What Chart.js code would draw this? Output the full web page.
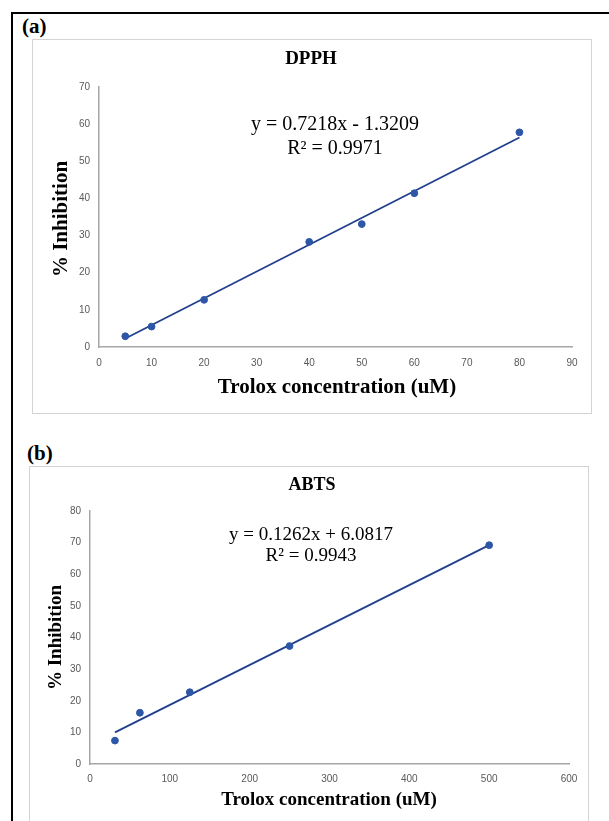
<!DOCTYPE html>
<html>
<head>
<meta charset="utf-8">
<script src="https://cdn.jsdelivr.net/npm/chart.js@4/dist/chart.umd.min.js"></script>
<style>
    body { margin: 0; background: #fff; width: 609px; height: 821px; overflow: hidden; position: relative; }
    #frame { position: absolute; left: 11px; top: 12px; width: 620px; height: 830px; border-left: 2px solid #000; border-top: 2px solid #000; }
    .panel-label { position: absolute; font-family: "Liberation Serif", serif; font-weight: bold; font-size: 21px; color: #000; }
    .box { position: absolute; box-sizing: border-box; border: 1px solid #d4d4d4; background: #fff; }
    .box canvas { display: block; }
</style>
</head>
<body>
<div id="frame"></div>

<div class="panel-label" style="left:22px; top:14px;">(a)</div>
<div class="box" style="left:32px; top:39px; width:560px; height:375px;">
    <canvas id="dpphChart" width="558" height="373"></canvas>
</div>

<div class="panel-label" style="left:27px; top:441px;">(b)</div>
<div class="box" style="left:29px; top:466px; width:560px; height:370px;">
    <canvas id="abtsChart" width="558" height="354"></canvas>
</div>

<script>
// DPPH data
const dpphConc = [5, 10, 20, 40, 50, 60, 80];
const dpphInhibition = [2.9, 5.5, 12.7, 28.3, 33.1, 41.4, 57.8];
const dpphTrendX = [5, 80];
const dpphTrendY = [2.3, 56.4];
const dpphXTicks = [0, 10, 20, 30, 40, 50, 60, 70, 80, 90];
const dpphYTicks = [0, 10, 20, 30, 40, 50, 60, 70];

// ABTS data
const abtsConc = [31.25, 62.5, 125, 250, 500];
const abtsInhibition = [7.4, 16.2, 22.7, 37.3, 69.2];
const abtsTrendX = [31.25, 500];
const abtsTrendY = [10.0, 69.2];
const abtsXTicks = [0, 100, 200, 300, 400, 500, 600];
const abtsYTicks = [0, 10, 20, 30, 40, 50, 60, 70, 80];

const pointColor = '#2d56a6';
const lineColor = '#213f8c';
const axisColor = '#a6a6a6';
const tickColor = '#595959';
const serif = '"Liberation Serif", "Times New Roman", serif';

// draws title, equation and axis titles on the canvas
const textPlugin = {
    id: 'panelText',
    afterDraw(chart, args, opts) {
        const ctx = chart.ctx;
        const area = chart.chartArea;
        ctx.save();
        ctx.fillStyle = '#000';
        ctx.textAlign = 'center';
        ctx.textBaseline = 'middle';

        ctx.font = 'bold ' + opts.titleSize + 'px ' + serif;
        ctx.fillText(opts.title, area.left + opts.titleDx, opts.titleY);

        ctx.font = opts.eqSize + 'px ' + serif;
        opts.equation.forEach((line, i) => {
            ctx.fillText(line, area.left + opts.eqDx, area.top + opts.eqDy + i * opts.eqGap);
        });

        ctx.font = 'bold ' + opts.axisSize + 'px ' + serif;
        ctx.fillText(opts.xTitle, area.left + opts.xTitleDx, area.bottom + opts.xTitleDy);

        ctx.translate(opts.yTitleX, (area.top + area.bottom) / 2 + opts.yTitleDy);
        ctx.rotate(-Math.PI / 2);
        ctx.fillText(opts.yTitle, 0, 0);
        ctx.restore();
    }
};

function buildChart(canvasId, xs, ys, trendX, trendY, xTicks, yTicks, layout, text) {
    const ctx = document.getElementById(canvasId).getContext('2d');
    return new Chart(ctx, {
        type: 'scatter',
        data: {
            datasets: [
                {
                    label: 'Trend',
                    data: trendX.map((x, i) => ({ x: x, y: trendY[i] })),
                    showLine: true,
                    borderColor: lineColor,
                    borderWidth: 1.8,
                    pointRadius: 0,
                    order: 2
                },
                {
                    label: 'Data',
                    data: xs.map((x, i) => ({ x: x, y: ys[i] })),
                    backgroundColor: pointColor,
                    borderColor: pointColor,
                    pointRadius: 3.4,
                    order: 1
                }
            ]
        },
        options: {
            responsive: false,
            animation: false,
            devicePixelRatio: 1,
            layout: { padding: { top: layout.top, right: layout.right, left: 0, bottom: 0 } },
            plugins: {
                legend: { display: false },
                tooltip: { enabled: false },
                panelText: text
            },
            scales: {
                x: {
                    type: 'linear',
                    min: xTicks[0],
                    max: xTicks[xTicks.length - 1],
                    afterBuildTicks: s => { s.ticks = xTicks.map(v => ({ value: v })); },
                    afterFit: s => { s.height = layout.xHeight; },
                    grid: { display: false, drawTicks: false },
                    border: { display: true, color: axisColor, width: 1.5 },
                    ticks: {
                        color: tickColor,
                        padding: layout.xPad,
                        maxRotation: 0,
                        font: { family: '"Liberation Sans", Arial, sans-serif', size: 10 }
                    }
                },
                y: {
                    type: 'linear',
                    min: yTicks[0],
                    max: yTicks[yTicks.length - 1],
                    afterBuildTicks: s => { s.ticks = yTicks.map(v => ({ value: v })); },
                    afterFit: s => { s.width = layout.yWidth; },
                    grid: { display: false, drawTicks: false },
                    border: { display: true, color: axisColor, width: 1.5 },
                    ticks: {
                        color: tickColor,
                        padding: layout.yPad,
                        font: { family: '"Liberation Sans", Arial, sans-serif', size: 10 }
                    }
                }
            }
        },
        plugins: [textPlugin]
    });
}

// Panel (a) DPPH
buildChart('dpphChart', dpphConc, dpphInhibition, dpphTrendX, dpphTrendY, dpphXTicks, dpphYTicks,
    { top: 47, right: 19, yWidth: 66, xHeight: 66, xPad: 10, yPad: 9 },
    {
        title: 'DPPH', titleSize: 19, titleDx: 212, titleY: 19,
        equation: ['y = 0.7218x - 1.3209', 'R² = 0.9971'],
        eqSize: 20, eqDx: 236, eqDy: 38, eqGap: 24,
        xTitle: 'Trolox concentration (uM)', axisSize: 21, xTitleDx: 238, xTitleDy: 41,
        yTitle: '% Inhibition', yTitleX: 29, yTitleDy: 2
    });

// Panel (b) ABTS
buildChart('abtsChart', abtsConc, abtsInhibition, abtsTrendX, abtsTrendY, abtsXTicks, abtsYTicks,
    { top: 44, right: 19, yWidth: 60, xHeight: 57, xPad: 9, yPad: 9 },
    {
        title: 'ABTS', titleSize: 18, titleDx: 222, titleY: 18,
        equation: ['y = 0.1262x + 6.0817', 'R² = 0.9943'],
        eqSize: 19, eqDx: 221, eqDy: 24, eqGap: 21,
        xTitle: 'Trolox concentration (uM)', axisSize: 19, xTitleDx: 239, xTitleDy: 36,
        yTitle: '% Inhibition', yTitleX: 26, yTitleDy: 0
    });
</script>
</body>
</html>
